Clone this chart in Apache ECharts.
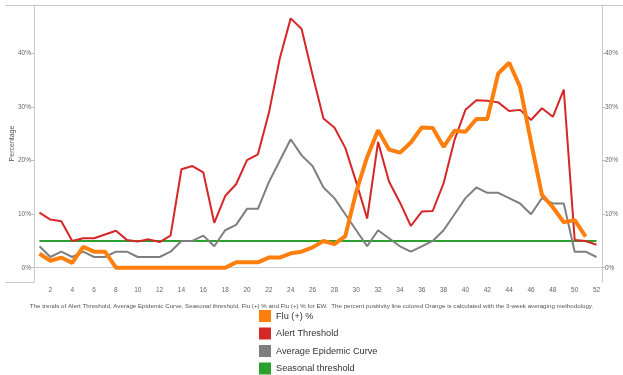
<!DOCTYPE html>
<html>
<head>
<meta charset="utf-8">
<script src="https://cdn.jsdelivr.net/npm/echarts@6/dist/echarts.min.js"></script>
<style>html,body{margin:0;padding:0;background:#fff}#c{width:623px;height:375px}</style>
</head>
<body>
<div id="c"></div>
<script>
const weeks = Array.from({length: 52}, (_, i) => String(i + 1));
const yTicks = [0, 10, 20, 30, 40];
const fluPct = [2.6,1.3,1.9,0.9,3.9,3.0,3.0,0,0,0, 0,0,0,0,0,0,0,0,1.0,1.0, 1.0,1.9,1.9,2.7,3.0,3.8,5.0,4.4,5.9,14.2, 20.7,25.7,22.1,21.5,23.4,26.2,26.1,22.6,25.6,25.4, 27.8,27.8,36.3,38.3,33.8,23.5,13.6,11.3,8.5,8.9, 5.8,null];
const alertThreshold = [10.3,9.0,8.7,5.0,5.5,5.5,6.2,6.9,5.2,4.9, 5.3,4.8,6.0,18.4,19.0,17.8,8.4,13.4,15.6,20.1, 21.2,28.9,39.1,46.6,44.6,36.0,27.9,26.2,22.4,16.0, 9.2,23.5,16.1,12.2,7.8,10.5,10.6,15.8,23.9,29.5, 31.3,31.2,30.9,29.3,29.5,27.6,29.8,28.2,33.3,5.2, 5.0,4.3];
const avgEpidemic = [4,2,3,2,3,2,2,3,3,2, 2,2,3,5,5,6,4,7,8,11, 11,16,20,24,21,19,15,13,10,7, 4,7,5.5,4,3,4,5,7,10,13, 15,14,14,13,12,10,13,12,12,3, 3,2];
const seasonal = [5,5,5,5,5,5,5,5,5,5, 5,5,5,5,5,5,5,5,5,5, 5,5,5,5,5,5,5,5,5,5, 5,5,5,5,5,5,5,5,5,5, 5,5,5,5,5,5,5,5,5,5, 5,5];
const caption = 'The trends of Alert Threshold, Average Epidemic Curve, Seasonal threshold, Flu (+) % and Flu (+) % for EW.  The percent positivity line colored Orange is calculated with the 3-week averaging methodology.';

const chart = echarts.init(document.getElementById('c'), null, {renderer: 'canvas'});
const axisFont = {fontFamily: 'Liberation Sans', fontSize: 6.5, color: '#666'};
const yBase = {
  type: 'value', min: -2.67, max: 49.1,
  splitLine: {show: false},
  axisLine: {show: true, lineStyle: {color: '#c8c8c8', width: 1}},
  axisTick: {show: true, length: 3, lineStyle: {color: '#bbb'}, customValues: yTicks},
  axisLabel: Object.assign({formatter: '{value}%', margin: 3, customValues: yTicks}, axisFont)
};
chart.setOption({
  animation: false,
  title: {
    text: caption, left: 'center', top: 298,
    textStyle: {fontFamily: 'Liberation Sans', fontSize: 6.2, fontWeight: 'normal', color: '#555'}
  },
  legend: {
    orient: 'vertical', left: 259, top: 310, padding: 0, itemWidth: 12, itemHeight: 12, itemGap: 5.5,
    icon: 'rect',
    data: ['Flu (+) %', 'Alert Threshold', 'Average Epidemic Curve', 'Seasonal threshold'],
    textStyle: {fontFamily: 'Liberation Sans', fontSize: 9.2, color: '#333'}
  },
  grid: {left: 34, right: 21, top: 5, bottom: 93, outerBoundsMode: 'none', containLabel: false},
  graphic: [
    {type: 'line', shape: {x1: 5, y1: 5.5, x2: 623, y2: 5.5}, style: {stroke: '#c8c8c8', lineWidth: 1}},
    {type: 'line', shape: {x1: 5, y1: 282.5, x2: 34, y2: 282.5}, style: {stroke: '#c8c8c8', lineWidth: 1}}
  ],
  xAxis: {
    type: 'category', data: weeks, boundaryGap: true,
    axisLine: {show: true, lineStyle: {color: '#c8c8c8', width: 1}},
    axisTick: {show: false},
    axisLabel: Object.assign({interval: (i) => i % 2 === 1, margin: 5}, axisFont)
  },
  yAxis: [
    Object.assign({}, yBase, {
      position: 'left', name: 'Percentage', nameLocation: 'middle', nameGap: 18, nameMoveOverlap: false,
      nameTextStyle: {fontFamily: 'Liberation Sans', fontSize: 7, color: '#555'}
    }),
    Object.assign({}, yBase, {position: 'right'})
  ],
  series: [
    {
      name: 'Seasonal threshold', type: 'line', data: seasonal, symbol: 'none', z: 2,
      itemStyle: {color: '#2ca02c'}, lineStyle: {color: '#2ca02c', width: 2},
      markLine: {
        silent: true, symbol: 'none', label: {show: false},
        lineStyle: {color: '#d0d0d0', type: 'dotted', width: 1},
        data: [{yAxis: 0}]
      }
    },
    {
      name: 'Average Epidemic Curve', type: 'line', data: avgEpidemic, symbol: 'none', z: 3,
      itemStyle: {color: '#7f7f7f'}, lineStyle: {color: '#7f7f7f', width: 2}
    },
    {
      name: 'Alert Threshold', type: 'line', data: alertThreshold, symbol: 'none', z: 4,
      itemStyle: {color: '#d62728'}, lineStyle: {color: '#d62728', width: 2}
    },
    {
      name: 'Flu (+) %', type: 'line', data: fluPct, symbol: 'none', z: 5,
      itemStyle: {color: '#ff7f0e'}, lineStyle: {color: '#ff7f0e', width: 4}
    }
  ]
});
</script>
</body>
</html>
